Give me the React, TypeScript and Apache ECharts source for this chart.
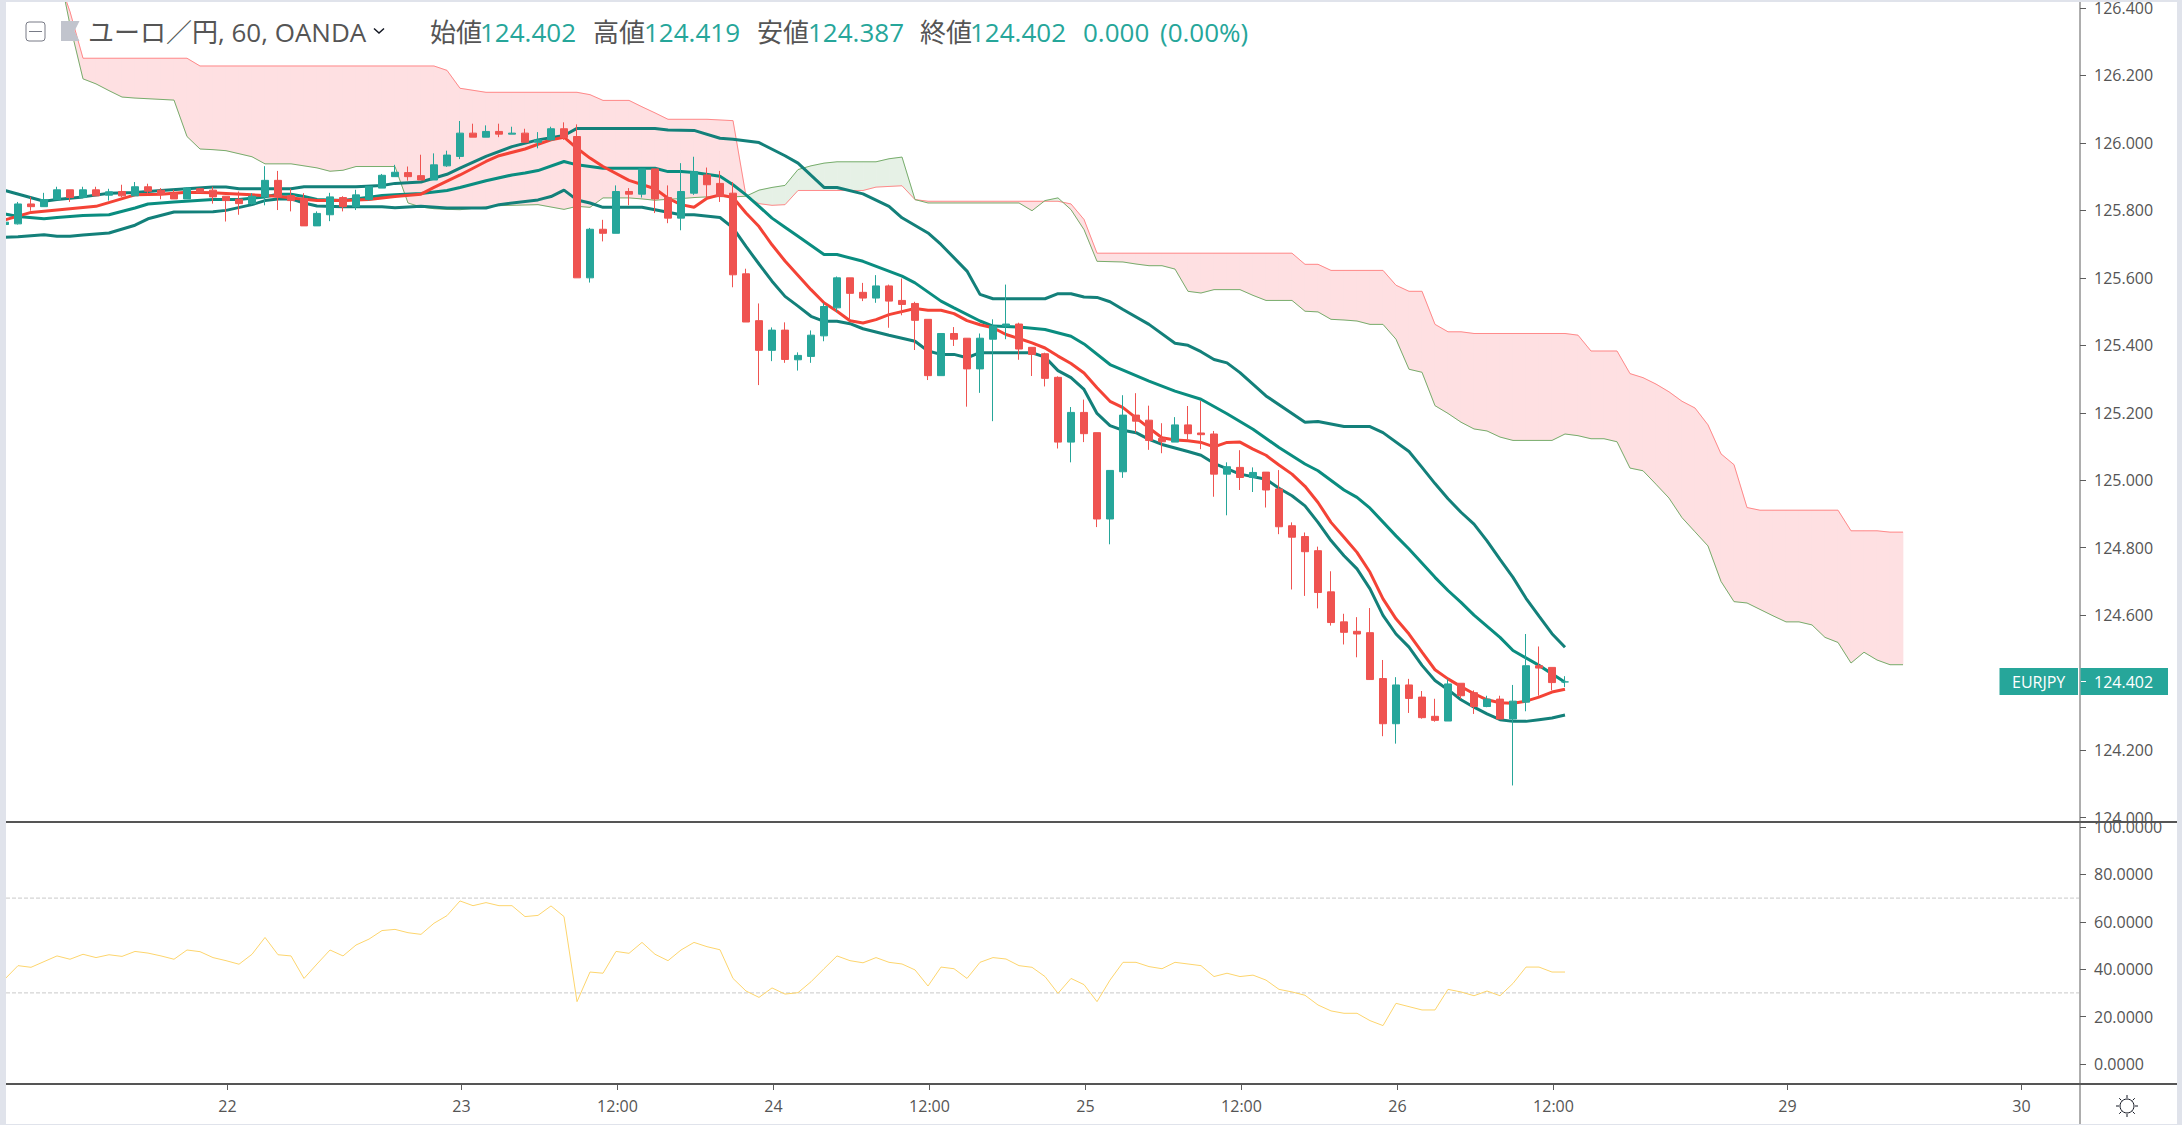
import React, { useEffect, useRef } from "react";
import * as echarts from "echarts";

const opens = [125.758,125.760,125.819,125.811,125.832,125.861,125.838,125.861,125.845,125.856,125.843,125.870,125.860,125.851,125.834,125.864,125.860,125.842,125.833,125.820,125.840,125.889,125.844,125.835,125.754,125.787,125.838,125.811,125.832,125.866,125.900,125.912,125.903,125.890,125.932,125.960,126.029,126.017,126.034,126.026,126.029,126.002,126.009,126.042,126.019,125.600,125.744,125.732,125.856,125.848,125.923,125.838,125.777,125.851,125.905,125.880,125.851,125.612,125.473,125.385,125.445,125.357,125.367,125.428,125.511,125.600,125.557,125.540,125.576,125.533,125.524,125.477,125.310,125.435,125.421,125.330,125.418,125.457,125.463,125.394,125.375,125.305,125.113,125.201,125.141,124.885,125.025,125.193,125.178,125.124,125.113,125.164,125.140,125.137,125.018,125.038,125.008,125.024,124.974,124.865,124.833,124.791,124.669,124.580,124.552,124.548,124.412,124.278,124.393,124.357,124.300,124.286,124.398,124.370,124.329,124.351,124.292,124.342,124.450,124.445,124.402];
const closes = [125.765,125.819,125.811,125.832,125.861,125.838,125.861,125.843,125.855,125.843,125.870,125.857,125.848,125.834,125.866,125.853,125.840,125.829,125.820,125.842,125.889,125.840,125.829,125.754,125.791,125.840,125.811,125.846,125.871,125.904,125.913,125.900,125.890,125.935,125.964,126.029,126.017,126.034,126.026,126.029,126.002,126.009,126.042,126.016,125.600,125.744,125.732,125.856,125.848,125.923,125.834,125.777,125.856,125.915,125.876,125.841,125.609,125.469,125.385,125.445,125.358,125.370,125.430,125.515,125.600,125.554,125.540,125.576,125.531,125.521,125.474,125.310,125.435,125.418,125.330,125.421,125.457,125.463,125.389,125.373,125.302,125.113,125.201,125.138,124.885,125.029,125.193,125.175,125.118,125.114,125.164,125.138,125.135,125.018,125.040,125.008,125.023,124.971,124.862,124.831,124.788,124.667,124.578,124.549,124.544,124.409,124.278,124.393,124.353,124.296,124.288,124.396,124.361,124.329,124.351,124.292,124.345,124.450,124.443,124.400,124.402];
const lows = [125.750,125.758,125.799,125.811,125.832,125.825,125.838,125.843,125.829,125.839,125.843,125.848,125.833,125.834,125.834,125.853,125.820,125.767,125.787,125.817,125.815,125.801,125.797,125.754,125.754,125.768,125.797,125.801,125.829,125.866,125.900,125.888,125.890,125.890,125.929,125.952,126.017,126.017,126.017,126.026,126.002,125.984,126.006,126.009,125.600,125.586,125.708,125.732,125.815,125.838,125.792,125.762,125.741,125.846,125.838,125.825,125.572,125.469,125.282,125.353,125.348,125.325,125.348,125.412,125.499,125.473,125.531,125.526,125.452,125.489,125.386,125.297,125.310,125.398,125.218,125.259,125.175,125.418,125.357,125.309,125.278,125.094,125.053,125.113,124.861,124.810,125.007,125.141,125.090,125.080,125.113,125.120,125.092,124.951,124.896,124.971,124.965,124.919,124.840,124.676,124.657,124.620,124.569,124.513,124.475,124.409,124.241,124.219,124.310,124.293,124.284,124.286,124.352,124.307,124.327,124.292,124.095,124.315,124.361,124.377,124.387];
const highs = [125.770,125.825,125.840,125.852,125.870,125.861,125.870,125.870,125.864,125.876,125.884,125.879,125.866,125.861,125.868,125.866,125.870,125.842,125.856,125.851,125.931,125.917,125.864,125.851,125.797,125.852,125.842,125.861,125.871,125.908,125.935,125.930,125.965,125.969,125.977,126.065,126.057,126.052,126.057,126.048,126.042,126.032,126.048,126.061,126.055,125.748,125.772,125.874,125.866,125.923,125.923,125.874,125.940,125.959,125.927,125.917,125.884,125.627,125.524,125.453,125.468,125.379,125.444,125.525,125.604,125.600,125.585,125.608,125.580,125.598,125.529,125.477,125.435,125.454,125.421,125.435,125.477,125.580,125.467,125.394,125.378,125.308,125.217,125.239,125.141,125.029,125.252,125.258,125.221,125.169,125.187,125.220,125.235,125.146,125.053,125.089,125.038,125.024,125.030,124.875,124.845,124.803,124.730,124.604,124.594,124.621,124.467,124.416,124.411,124.375,124.352,124.411,124.398,124.377,124.361,124.361,124.393,124.544,124.507,124.445,124.419];

const upperBand = [[0,125.859],[3,125.827],[4,125.832],[6,125.840],[8,125.851],[10,125.853],[11,125.856],[12,125.859],[14,125.864],[16,125.869],[17,125.869],[18,125.864],[22,125.864],[23,125.870],[27,125.870],[29,125.874],[30,125.880],[32,125.884],[34,125.907],[35,125.925],[37,125.960],[39,125.989],[41,126.009],[43,126.022],[44,126.043],[50,126.043],[51,126.038],[53,126.037],[55,126.014],[56,126.011],[58,126.001],[60,125.962],[61,125.940],[63,125.868],[64,125.868],[66,125.849],[68,125.812],[69,125.778],[71,125.733],[72,125.699],[74,125.620],[75,125.551],[76,125.538],[80,125.538],[81,125.553],[82,125.553],[83,125.543],[84,125.542],[85,125.529],[86,125.506],[88,125.462],[90,125.406],[91,125.400],[92,125.381],[93,125.358],[94,125.348],[95,125.319],[97,125.250],[100,125.172],[101,125.174],[103,125.159],[105,125.159],[106,125.141],[108,125.085],[109,125.038],[110,124.990],[111,124.945],[112,124.905],[113,124.870],[114,124.820],[115,124.765],[116,124.712],[117,124.650],[118,124.597],[119,124.545],[120,124.505]];
const middleBand = [[0,125.789],[1,125.782],[3,125.775],[4,125.779],[6,125.785],[8,125.787],[10,125.807],[11,125.819],[13,125.825],[16,125.832],[18,125.832],[20,125.840],[21,125.848],[22,125.848],[23,125.841],[24,125.832],[26,125.829],[28,125.839],[29,125.844],[30,125.846],[32,125.850],[34,125.859],[35,125.868],[37,125.888],[39,125.905],[40,125.911],[41,125.918],[43,125.945],[44,125.935],[45,125.930],[46,125.925],[50,125.925],[51,125.915],[52,125.915],[53,125.912],[55,125.901],[56,125.876],[57,125.846],[58,125.812],[59,125.777],[60,125.750],[61,125.723],[63,125.669],[64,125.669],[66,125.649],[69,125.605],[70,125.585],[72,125.531],[73,125.511],[75,125.472],[76,125.457],[78,125.454],[80,125.447],[82,125.427],[83,125.404],[85,125.343],[88,125.294],[90,125.264],[92,125.240],[94,125.197],[96,125.151],[98,125.097],[100,125.048],[101,125.028],[103,124.971],[104,124.949],[105,124.917],[107,124.835],[108,124.796],[110,124.712],[111,124.673],[112,124.638],[113,124.600],[115,124.534],[116,124.495],[118,124.451],[120,124.401]];
const lowerBand = [[0,125.720],[1,125.722],[3,125.728],[4,125.723],[5,125.723],[6,125.727],[8,125.733],[10,125.756],[11,125.775],[13,125.795],[16,125.796],[17,125.800],[19,125.817],[20,125.829],[21,125.834],[22,125.834],[23,125.822],[24,125.813],[26,125.811],[29,125.811],[30,125.808],[32,125.812],[34,125.807],[37,125.807],[38,125.817],[41,125.831],[42,125.841],[43,125.860],[44,125.831],[45,125.822],[46,125.809],[49,125.809],[50,125.802],[52,125.787],[53,125.787],[55,125.779],[56,125.748],[57,125.693],[58,125.641],[59,125.590],[60,125.545],[61,125.516],[62,125.486],[63,125.471],[64,125.471],[65,125.464],[66,125.449],[68,125.430],[70,125.412],[71,125.383],[72,125.373],[73,125.373],[74,125.363],[75,125.378],[79,125.378],[80,125.365],[81,125.325],[82,125.304],[83,125.269],[84,125.198],[85,125.162],[86,125.148],[87,125.141],[88,125.121],[89,125.106],[91,125.085],[92,125.074],[93,125.050],[95,125.018],[97,125.003],[98,124.976],[99,124.954],[100,124.924],[101,124.875],[102,124.821],[103,124.776],[104,124.737],[105,124.678],[106,124.599],[107,124.544],[108,124.505],[109,124.451],[110,124.406],[111,124.379],[112,124.349],[113,124.327],[114,124.307],[115,124.290],[116,124.285],[117,124.285],[118,124.290],[119,124.295],[120,124.304]];
const movingAverage = [[0,125.772],[2,125.794],[5,125.805],[7,125.812],[10,125.846],[12,125.848],[14,125.854],[16,125.852],[17,125.850],[19,125.846],[21,125.842],[22,125.837],[24,125.829],[26,125.829],[28,125.832],[30,125.841],[32,125.848],[33,125.868],[35,125.905],[37,125.945],[38,125.962],[40,125.982],[41,125.996],[42,126.009],[43,126.017],[44,125.984],[45,125.955],[46,125.930],[48,125.889],[50,125.864],[51,125.836],[52,125.817],[53,125.809],[54,125.836],[55,125.846],[56,125.838],[57,125.792],[58,125.752],[59,125.698],[60,125.650],[62,125.565],[63,125.526],[64,125.501],[65,125.473],[66,125.466],[67,125.476],[68,125.491],[70,125.509],[71,125.504],[72,125.504],[73,125.494],[74,125.473],[75,125.461],[76,125.452],[77,125.432],[78,125.420],[79,125.407],[80,125.392],[81,125.368],[82,125.346],[83,125.318],[84,125.274],[85,125.234],[86,125.215],[87,125.185],[88,125.155],[89,125.126],[90,125.119],[91,125.117],[92,125.112],[93,125.099],[94,125.112],[95,125.113],[96,125.092],[97,125.074],[98,125.045],[99,125.018],[100,124.982],[101,124.934],[102,124.875],[103,124.831],[104,124.786],[105,124.727],[106,124.648],[107,124.589],[108,124.544],[109,124.490],[110,124.438],[111,124.411],[112,124.388],[113,124.367],[114,124.349],[115,124.340],[116,124.339],[117,124.345],[118,124.357],[119,124.372],[120,124.380]];

const spanRed = [null,null,null,null,126.500,126.389,126.251,126.251,126.251,126.251,126.251,126.251,126.251,126.251,126.251,126.228,126.228,126.228,126.228,126.228,126.228,126.228,126.228,126.228,126.228,126.228,126.228,126.228,126.228,126.228,126.228,126.228,126.228,126.228,126.215,126.162,126.156,126.150,126.150,126.150,126.150,126.150,126.150,126.150,126.150,126.143,126.126,126.126,126.126,126.107,126.089,126.070,126.070,126.070,126.070,126.068,126.066,125.842,125.820,125.815,125.817,125.859,125.859,125.859,125.859,125.859,125.859,125.869,125.871,125.873,125.832,125.827,125.827,125.827,125.827,125.827,125.827,125.827,125.827,125.827,125.827,125.827,125.819,125.773,125.673,125.673,125.673,125.673,125.673,125.673,125.673,125.673,125.673,125.673,125.673,125.673,125.673,125.673,125.673,125.673,125.640,125.640,125.622,125.622,125.622,125.622,125.622,125.578,125.560,125.560,125.462,125.440,125.440,125.435,125.435,125.435,125.435,125.435,125.435,125.435,125.435,125.430,125.383,125.383,125.383,125.316,125.304,125.285,125.262,125.234,125.214,125.164,125.078,125.046,124.919,124.911,124.911,124.911,124.911,124.911,124.911,124.911,124.850,124.850,124.850,124.846,124.846];
const spanGreen = [null,null,null,null,126.540,126.350,126.190,126.175,126.155,126.136,126.133,126.131,126.129,126.127,126.019,125.982,125.980,125.977,125.968,125.959,125.938,125.938,125.938,125.932,125.926,125.916,125.919,125.930,125.930,125.930,125.930,125.822,125.810,125.805,125.803,125.802,125.806,125.810,125.814,125.815,125.816,125.817,125.810,125.803,125.812,125.809,125.837,125.837,125.837,125.834,125.830,125.833,125.835,125.838,125.840,125.841,125.840,125.842,125.860,125.868,125.874,125.921,125.932,125.940,125.944,125.944,125.944,125.944,125.953,125.958,125.832,125.822,125.822,125.822,125.822,125.822,125.822,125.822,125.822,125.799,125.829,125.837,125.802,125.743,125.649,125.648,125.647,125.641,125.636,125.636,125.626,125.560,125.555,125.565,125.565,125.565,125.548,125.533,125.533,125.533,125.501,125.499,125.477,125.475,125.472,125.462,125.462,125.418,125.329,125.320,125.221,125.198,125.172,125.152,125.146,125.128,125.118,125.118,125.118,125.118,125.137,125.132,125.123,125.123,125.114,125.036,125.028,124.988,124.947,124.889,124.847,124.805,124.700,124.640,124.636,124.617,124.598,124.580,124.580,124.571,124.534,124.519,124.458,124.490,124.467,124.453,124.453];

const rsi = [35.9,41.5,40.8,43.2,45.6,44.2,46.3,44.9,46.1,45.4,47.5,46.8,45.6,44.2,48.1,47.4,44.9,43.6,42.1,46.3,53.4,46.1,45.6,36.1,42.2,48.1,45.6,50.2,52.7,56.3,56.8,55.4,54.7,59.4,62.6,68.8,66.8,68.1,66.8,66.8,62.2,62.7,66.7,62.2,26.3,38.8,38.3,47.5,46.7,51.3,46.3,43.6,48.1,51.3,49.5,48.2,36.1,30.8,28.1,32.1,29.5,30.1,34.7,40.2,45.6,43.6,42.7,44.9,42.9,42.2,39.7,32.9,40.9,40.2,36.1,42.9,44.9,44.3,41.5,40.8,36.9,29.8,36.1,33.5,26.3,35.4,42.9,42.9,41.1,40.2,42.9,42.2,41.5,36.9,38.3,36.9,37.5,35.4,31.5,30.4,29.0,24.9,22.4,21.4,21.4,18.3,16.2,25.6,24.2,22.8,22.8,31.5,30.4,28.8,30.8,28.8,34.0,40.9,40.9,38.8,38.8];
const rsiUpperGuide = [70, 70];
const rsiLowerGuide = [30, 30];

const priceTicks = [126.4,126.2,126.0,125.8,125.6,125.4,125.2,125.0,124.8,124.6,124.2,124.0];
const timeTickBars = [17,35,47,59,71,83,95,107,119,137,155];
const timeTickLabels = ["22","23","12:00","24","12:00","25","12:00","26","12:00","29","30"];
const barSlots = Array.from({ length: 160 }, (_, i) => String(i));
const headerItems = [
  { text: "ユーロ／円, 60, OANDA", x: 88, color: "#555" },
  { text: "始値", x: 430, color: "#555" },
  { text: "124.402", x: 480, color: "#26a69a" },
  { text: "高値", x: 593, color: "#555" },
  { text: "124.419", x: 644, color: "#26a69a" },
  { text: "安値", x: 757, color: "#555" },
  { text: "124.387", x: 808, color: "#26a69a" },
  { text: "終値", x: 920, color: "#555" },
  { text: "124.402", x: 970, color: "#26a69a" },
  { text: "0.000", x: 1083, color: "#26a69a" },
  { text: "(0.00%)", x: 1160, color: "#26a69a" },
];

const UP = "#26a69a";
const DOWN = "#ef5350";
const FONT = '"Open Sans", "Noto Sans CJK JP", sans-serif';

function renderCloud(_: any, api: any) {
  const i = api.value(0);
  const a0 = api.value(1), b0 = api.value(2), a1 = api.value(3), b1 = api.value(4);
  const xL = api.coord([i, a0])[0];
  const xR = api.coord([i + 1, a0])[0];
  const y = (v: number) => api.coord([i, v])[1];
  const PINK = "#fee0e2";
  const GREEN = "#e6f1e6";
  const poly = (pts: number[][], fill: string) => ({
    type: "polygon", shape: { points: pts }, style: { fill, stroke: fill, lineWidth: 0.7 },
  });
  const d0 = a0 - b0, d1 = a1 - b1;
  if (d0 * d1 < 0) {
    const t = d0 / (d0 - d1);
    const xm = xL + (xR - xL) * t;
    const ym = y(a0 + (a1 - a0) * t);
    return {
      type: "group",
      children: [
        poly([[xL, y(a0)], [xm, ym], [xL, y(b0)]], d0 > 0 ? PINK : GREEN),
        poly([[xR, y(a1)], [xm, ym], [xR, y(b1)]], d1 > 0 ? PINK : GREEN),
      ],
    };
  }
  return poly([[xL, y(a0)], [xR, y(a1)], [xR, y(b1)], [xL, y(b0)]], d0 + d1 >= 0 ? PINK : GREEN);
}

function sunRays() {
  const out: any[] = [];
  for (let k = 0; k < 8; k++) {
    const a = (k * Math.PI) / 4;
    out.push({
      type: "line", z: 20,
      shape: { x1: 2127 + Math.cos(a) * 8, y1: 1106 + Math.sin(a) * 8, x2: 2127 + Math.cos(a) * 11, y2: 1106 + Math.sin(a) * 11 },
      style: { stroke: "#131722", lineWidth: 1 },
    });
  }
  return out;
}

export default function App() {
  const ref = useRef<HTMLDivElement>(null);
  useEffect(() => {
    document.body.style.margin = "0";
    const chart = echarts.init(ref.current!, undefined, { renderer: "svg" });
    const cloudData: number[][] = [];
    for (let i = 4; i < spanRed.length - 1; i++) {
      cloudData.push([i, spanRed[i] as number, spanGreen[i] as number, spanRed[i + 1] as number, spanGreen[i + 1] as number]);
    }
    const bandLine = (name: string, data: number[][], color: string) => ({
      name, type: "line", data, xAxisIndex: 0, yAxisIndex: 0, showSymbol: false, z: 3,
      lineStyle: { color, width: 3 }, silent: true,
    });
    const guideLine = (name: string, data: number[]) => ({
      name, type: "line", data, xAxisIndex: 3, yAxisIndex: 3, showSymbol: false, z: 4, silent: true,
      lineStyle: { color: "#c9c9c9", type: "dashed", width: 1 },
    });
    chart.setOption({
      animation: false,
      backgroundColor: "#ffffff",
      textStyle: { fontFamily: FONT },
      grid: [
        { left: 5, width: 2067, top: 6.5, height: 811 },
        { left: 5, width: 2067, top: 827, height: 237 },
        { left: 0, width: 2080, top: 1084, height: 1 },
        { left: 6, width: 2073, top: 827, height: 237 },
      ],
      xAxis: [
        { type: "category", gridIndex: 0, data: barSlots, boundaryGap: false, show: false },
        { type: "category", gridIndex: 1, data: barSlots, boundaryGap: false, show: false },
        {
          type: "category", gridIndex: 2, z: 6,
          data: barSlots.map((_, i) => {
            const k = timeTickBars.indexOf(i);
            return k >= 0 ? timeTickLabels[k] : "";
          }),
          axisLine: { show: false },
          axisTick: {
            show: true, alignWithLabel: true, length: 5, lineStyle: { color: "#5c5c5c" },
            interval: (i: number) => timeTickBars.includes(i),
          },
          axisLabel: {
            color: "#555", fontSize: 16, fontFamily: FONT, margin: 13,
            interval: (i: number) => timeTickBars.includes(i),
          },
        },
        { type: "category", gridIndex: 3, data: ["start", "end"], boundaryGap: false, show: false },
      ],
      yAxis: [
        {
          type: "value", gridIndex: 0, position: "right", offset: 8, min: 124, max: 126.4, interval: 0.2, z: 0,
          splitLine: { show: false }, axisLine: { show: false },
          axisTick: { show: true, length: 6, lineStyle: { color: "#5c5c5c" }, customValues: priceTicks },
          axisLabel: {
            color: "#555", fontSize: 16, fontFamily: FONT, margin: 14, customValues: priceTicks,
            formatter: (v: number) => v.toFixed(3),
          },
        },
        {
          type: "value", gridIndex: 1, position: "right", offset: 8, min: 0, max: 100, interval: 20, z: 3,
          splitLine: { show: false }, axisLine: { show: false },
          axisTick: { show: true, length: 6, lineStyle: { color: "#5c5c5c" } },
          axisLabel: {
            color: "#555", fontSize: 16, fontFamily: FONT, margin: 14,
            formatter: (v: number) => v.toFixed(4),
          },
        },
        { type: "value", gridIndex: 2, show: false },
        { type: "value", gridIndex: 3, min: 0, max: 100, show: false },
      ],
      series: [
        {
          name: "cloud", type: "custom", xAxisIndex: 0, yAxisIndex: 0, z: 1, silent: true, clip: false,
          renderItem: renderCloud, data: cloudData, encode: { x: 0, y: [1, 2, 3, 4] },
        },
        { name: "spanRed", type: "line", data: spanRed, xAxisIndex: 0, yAxisIndex: 0, showSymbol: false, clip: false, z: 2, silent: true, lineStyle: { color: "#ff8a8a", width: 1 } },
        { name: "spanGreen", type: "line", data: spanGreen, xAxisIndex: 0, yAxisIndex: 0, showSymbol: false, clip: false, z: 2, silent: true, lineStyle: { color: "#77ad6c", width: 1 } },
        bandLine("upper", upperBand, "#13807a"),
        bandLine("middle", middleBand, "#0a8d80"),
        bandLine("lower", lowerBand, "#13807a"),
        bandLine("ma", movingAverage, "#f44336"),
        {
          name: "EURJPY", type: "candlestick", xAxisIndex: 0, yAxisIndex: 0, z: 4, barWidth: 8, silent: true,
          data: opens.map((o, i) => [o, closes[i], lows[i], highs[i]]),
          itemStyle: { color: UP, color0: DOWN, borderColor: UP, borderColor0: DOWN, borderColorDoji: UP, borderWidth: 1 },
        },
        guideLine("rsiUpper", rsiUpperGuide),
        guideLine("rsiLower", rsiLowerGuide),
        {
          name: "RSI", type: "line", data: rsi, xAxisIndex: 1, yAxisIndex: 1, showSymbol: false, z: 5, silent: true,
          lineStyle: { color: "#fdd56d", width: 1 },
        },
      ],
      graphic: [
        { type: "rect", z: 1, shape: { x: 6, y: 823, width: 2171, height: 261 }, style: { fill: "#ffffff" } },
        { type: "rect", z: 20, shape: { x: 0, y: 0, width: 2182, height: 2 }, style: { fill: "#e0e3eb" } },
        { type: "rect", z: 20, shape: { x: 0, y: 0, width: 6, height: 1124 }, style: { fill: "#e0e3eb" } },
        { type: "rect", z: 20, shape: { x: 2177, y: 0, width: 5, height: 1124 }, style: { fill: "#e0e3eb" } },
        { type: "rect", z: 20, shape: { x: 0, y: 1124, width: 2182, height: 1 }, style: { fill: "#e0e3eb" } },
        { type: "rect", z: 20, shape: { x: 6, y: 821, width: 2171, height: 2 }, style: { fill: "#555555" } },
        { type: "rect", z: 20, shape: { x: 6, y: 1083, width: 2171, height: 2 }, style: { fill: "#555555" } },
        { type: "line", z: 20, shape: { x1: 2080, y1: 2, x2: 2080, y2: 1124 }, style: { stroke: "#5c5c5c", lineWidth: 1 } },
        { type: "rect", z: 21, shape: { x: 1999.5, y: 668, width: 78.5, height: 27 }, style: { fill: UP } },
        { type: "rect", z: 21, shape: { x: 2080.5, y: 668, width: 87.5, height: 27 }, style: { fill: UP } },
        { type: "line", z: 22, shape: { x1: 2081, y1: 681.5, x2: 2086, y2: 681.5 }, style: { stroke: "#ffffff", lineWidth: 1 } },
        { type: "text", z: 22, x: 2012, y: 681.5, style: { text: "EURJPY", fill: "#ffffff", font: `16px ${FONT}`, textVerticalAlign: "middle" } },
        { type: "text", z: 22, x: 2094, y: 681.5, style: { text: "124.402", fill: "#ffffff", font: `16px ${FONT}`, textVerticalAlign: "middle" } },
        { type: "rect", z: 21, shape: { x: 26, y: 22, width: 19, height: 19, r: 3 }, style: { fill: "#ffffff", stroke: "#787b86", lineWidth: 1 } },
        { type: "line", z: 22, shape: { x1: 29, y1: 31.5, x2: 42, y2: 31.5 }, style: { stroke: "#787b86", lineWidth: 1 } },
        { type: "polygon", z: 21, shape: { points: [[61, 21], [79.5, 21], [74.5, 31], [79.5, 41], [61, 41]] }, style: { fill: "#c1c4cd" } },
        { type: "polyline", z: 21, shape: { points: [[374, 28.5], [379, 33], [384, 28.5]] }, style: { stroke: "#131722", lineWidth: 1.5, fill: "none" } },
        ...headerItems.map((h) => ({
          type: "text", z: 22, x: h.x, y: 32,
          style: { text: h.text, fill: h.color, font: `26px ${FONT}`, textVerticalAlign: "middle" },
        })),
        { type: "circle", z: 20, shape: { cx: 2127, cy: 1106, r: 7 }, style: { fill: "#ffffff", stroke: "#131722", lineWidth: 1 } },
        ...sunRays(),
      ],
    });
    return () => chart.dispose();
  }, []);
  return <div ref={ref} style={{ position: "fixed", left: 0, top: 0, width: 2182, height: 1128 }} />;
}
